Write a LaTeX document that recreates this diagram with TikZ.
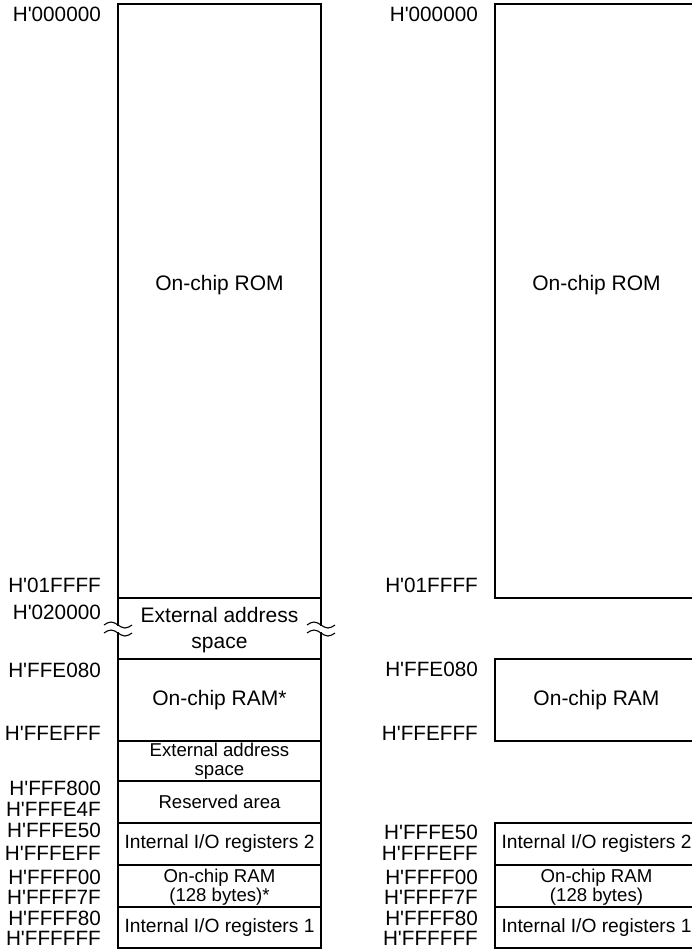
\documentclass[tikz,border=0pt]{standalone}
\usepackage{fontspec}
\setmainfont{Liberation Sans}[Ligatures=TeXOff]
\usepackage{tikz}
\usetikzlibrary{positioning}
\tikzset{
  mline/.style={black, line width=1.4pt},
  mwave/.style={black, line width=1.1pt},
  mlbl/.style={font=\fontsize{21}{26}\selectfont, align=center, inner sep=0pt},
  msmall/.style={font=\fontsize{18.6}{19}\selectfont, align=center, inner sep=0pt},
  mio/.style={font=\fontsize{19.2}{21}\selectfont, align=center, inner sep=0pt},
  maddr/.style={font=\fontsize{20.7}{22}\selectfont, anchor=east, inner sep=0pt},
}

\begin{document}
\begin{tikzpicture}[x=1pt,y=-1pt]
  \useasboundingbox (0,0) rectangle (692,950);

  % left map
  \draw[mline] (118,598) -- (118,4) -- (321,4) -- (321,598) -- cycle;
  \draw[mline] (118,598) -- (118,626) (321,598) -- (321,626);
  \draw[mline] (118,632) -- (118,659) (321,632) -- (321,659);
  \foreach \bx in {118,321}
    \foreach \by in {625,633}
      \draw[mwave] (\bx-14,\by) sin (\bx-7,\by-3) cos (\bx,\by)
                   sin (\bx+7,\by+3) cos (\bx+14,\by);
  \foreach \ya/\yb in {659/741, 741/781, 781/823, 823/865, 865/907, 907/948}
    \draw[mline] (118,\ya) rectangle (321,\yb);

  \node[mlbl]   (romL)  at (219.5,285) {On-chip ROM};
  \node[mlbl]   (extL)  at (219.5,630) {External address\\space};
  \node[mlbl]   (ramL)  at (219.5,700) {On-chip RAM*};
  \node[msmall] (ext2L) at (219.5,761) {External address\\space};
  \node[msmall] (resL)  at (219.5,802) {Reserved area};
  \node[mio]    (io2L)  at (219.5,844) {Internal I/O registers 2};
  \node[msmall] (smlL)  at (219.5,887) {On-chip RAM\\(128 bytes)*};
  \node[mio]    (io1L)  at (219.5,928) {Internal I/O registers 1};

  \foreach \y/\t [count=\i] in {14/H'000000, 585/H'01FFFF, 612/H'020000,
      670/H'FFE080, 733/H'FFEFFF, 788/H'FFF800, 809/H'FFFE4F, 830/H'FFFE50,
      853/H'FFFEFF, 877/H'FFFF00, 897/H'FFFF7F, 918/H'FFFF80, 938/H'FFFFFF}
    \node[maddr] (addrL\i) at (101,\y) {\t};

  % right map
  \draw[mline] (495,598) -- (495,4) -- (698,4) -- (698,598) -- cycle;
  \draw[mline] (495,659) rectangle (698,741);
  \foreach \ya/\yb in {823/865, 865/907, 907/948}
    \draw[mline] (495,\ya) rectangle (698,\yb);

  \node[mlbl]   (romR) at (596.5,285) {On-chip ROM};
  \node[mlbl]   (ramR) at (596.5,700) {On-chip RAM};
  \node[mio]    (io2R) at (596.5,844) {Internal I/O registers 2};
  \node[msmall] (smlR) at (596.5,887) {On-chip RAM\\(128 bytes)};
  \node[mio]    (io1R) at (596.5,928) {Internal I/O registers 1};

  \foreach \y/\t [count=\i] in {14/H'000000, 585/H'01FFFF, 669/H'FFE080,
      733/H'FFEFFF, 832/H'FFFE50, 853/H'FFFEFF, 877/H'FFFF00, 897/H'FFFF7F,
      918/H'FFFF80, 938/H'FFFFFF}
    \node[maddr] (addrR\i) at (478,\y) {\t};
\end{tikzpicture}
\end{document}
